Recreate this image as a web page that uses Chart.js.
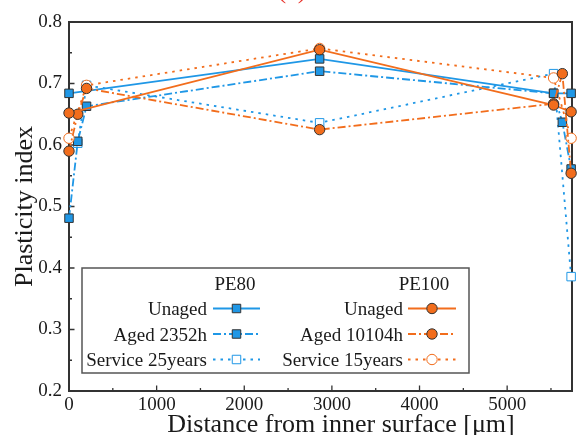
<!DOCTYPE html>
<html>
<head>
<meta charset="utf-8">
<style>
  html, body { margin: 0; padding: 0; background: #fff; }
  #wrap { width: 579px; height: 435px; }
</style>
<script src="https://cdn.jsdelivr.net/npm/chart.js@4.4.0/dist/chart.umd.min.js"></script>
</head>
<body>
<div id="wrap"><canvas id="myChart" width="579" height="435"></canvas></div>
<script>
/*******************************
* DATA
********************************/
var xTickLabels = [0, 1000, 2000, 3000, 4000, 5000];
var yTickLabels = [0.2, 0.3, 0.4, 0.5, 0.6, 0.7, 0.8];
var groupTitles = ['PE80', 'PE100'];
var pe80Labels  = ['Unaged', 'Aged 2352h', 'Service 25years'];
var pe100Labels = ['Unaged', 'Aged 10104h', 'Service 15years'];

// PE80, distance [um] / plasticity index
var pe80UnagedX  = [0, 2860, 5530, 5730];
var pe80UnagedY  = [0.684, 0.740, 0.684, 0.684];
var pe80AgedX    = [0, 100, 200, 2860, 5530, 5630, 5730];
var pe80AgedY    = [0.481, 0.606, 0.663, 0.720, 0.684, 0.637, 0.561];
var pe80ServiceX = [100, 200, 2860, 5530, 5730];
var pe80ServiceY = [0.603, 0.697, 0.636, 0.716, 0.386];

// PE100
var pe100UnagedX  = [0, 2860, 5530, 5730];
var pe100UnagedY  = [0.652, 0.755, 0.665, 0.654];
var pe100AgedX    = [0, 100, 200, 2860, 5530, 5630, 5730];
var pe100AgedY    = [0.590, 0.650, 0.692, 0.625, 0.667, 0.716, 0.554];
var pe100ServiceX = [0, 200, 2860, 5530, 5730];
var pe100ServiceY = [0.611, 0.697, 0.757, 0.709, 0.611];

(function(){
  /*******************************
  * LOAD
  ********************************/
  window.addEventListener('load', function() {
    app.init();
  })

  var blue = '#1f97e6';
  var orange = '#f26d1c';
  var axisColor = '#333';
  var textColor = '#1a1a1a';
  var serif = '"Liberation Serif", "DejaVu Serif", serif';
  var dashDot = [8, 3, 2, 3];
  var dotted = [2.5, 5];

  var app = {

    init: function() {
      app.chart();
    },

    // pair up x / y arrays for a scatter dataset
    points: function(xs, ys) {
      return xs.map(function(x, i){ return { x: x, y: ys[i] }; });
    },

    // major ticks from the label list plus a minor tick halfway between
    withMinor: function(major, half, limit) {
      var out = [];
      major.forEach(function(v){
        out.push({ value: v });
        var m = Math.round((v + half) * 1000) / 1000;
        if (m < limit) out.push({ value: m });
      });
      return out;
    },

    series: function(label, xs, ys, color, dash, style, open, order) {
      return {
        label: label,
        data: app.points(xs, ys),
        showLine: true,
        borderColor: color,
        backgroundColor: color,
        borderWidth: 1.8,
        borderDash: dash,
        pointStyle: style,
        pointRadius: style === 'rect' ? 6 : 5.2,
        pointBackgroundColor: open ? '#fff' : color,
        pointBorderColor: open ? color : axisColor,
        pointBorderWidth: 1,
        order: order,
        clip: false
      };
    },

    /*******************************
    * Extra drawing: inward ticks, frame, legend table, titles
    ********************************/
    decor: {
      id: 'decor',
      beforeDatasetsDraw: function(chart) {
        var ctx = chart.ctx, a = chart.chartArea;
        var xs = chart.scales.x, ys = chart.scales.y;
        ctx.save();
        ctx.strokeStyle = axisColor;
        ctx.lineWidth = 2;
        ctx.beginPath();
        ctx.moveTo(a.left, a.top);
        ctx.lineTo(a.right, a.top);
        ctx.lineTo(a.right, a.bottom);
        ctx.stroke();

        ctx.lineWidth = 1.3;
        ctx.beginPath();
        ys.ticks.forEach(function(t){
          var py = ys.getPixelForValue(t.value);
          var major = t.label !== '';
          ctx.moveTo(a.left, py);
          ctx.lineTo(a.left + (major ? 5.5 : 3), py);
        });
        xs.ticks.forEach(function(t){
          var px = xs.getPixelForValue(t.value);
          var major = t.label !== '';
          ctx.moveTo(px, a.bottom);
          ctx.lineTo(px, a.bottom - (major ? 5.5 : 3));
        });
        ctx.stroke();
        ctx.restore();
      },
      afterDraw: function(chart) {
        var ctx = chart.ctx;
        var sets = chart.data.datasets;
        ctx.save();

        // panel tag, mostly cut off by the top edge
        ctx.fillStyle = '#e8322a';
        ctx.font = '26px ' + serif;
        ctx.textAlign = 'center';
        ctx.textBaseline = 'alphabetic';
        ctx.fillText('(a)', 292, -2);

        // x axis title (sits right of plot centre in the reference)
        ctx.fillStyle = textColor;
        ctx.fillText('Distance from inner surface [\u03bcm]', 341, 432);

        // legend box
        ctx.fillStyle = '#fff';
        ctx.fillRect(82, 268, 387, 105);
        ctx.strokeStyle = '#555';
        ctx.lineWidth = 1.5;
        ctx.strokeRect(82, 268, 387, 105);

        var cols = [
          { labels: pe80Labels,  title: groupTitles[0], first: 0, textRight: 207, x1: 213, x2: 260, mid: 236.5, titleX: 235 },
          { labels: pe100Labels, title: groupTitles[1], first: 3, textRight: 403, x1: 408, x2: 456, mid: 432,   titleX: 424 }
        ];
        var rows = [308.5, 334, 359.5];
        ctx.font = '19px ' + serif;
        cols.forEach(function(c){
          ctx.fillStyle = textColor;
          ctx.textAlign = 'center';
          ctx.fillText(c.title, c.titleX, 290);
          c.labels.forEach(function(lab, i){
            var ds = sets[c.first + i];
            var y = rows[i];
            ctx.fillStyle = textColor;
            ctx.textAlign = 'right';
            ctx.fillText(lab, c.textRight, y + 6.5);

            ctx.strokeStyle = ds.borderColor;
            ctx.lineWidth = ds.borderWidth;
            ctx.setLineDash(ds.borderDash);
            ctx.beginPath();
            ctx.moveTo(c.x1, y);
            ctx.lineTo(c.x2, y);
            ctx.stroke();
            ctx.setLineDash([]);

            ctx.fillStyle = ds.pointBackgroundColor;
            ctx.strokeStyle = ds.pointBorderColor;
            ctx.lineWidth = ds.pointBorderWidth;
            Chart.helpers.drawPoint(ctx, {
              pointStyle: ds.pointStyle,
              radius: ds.pointRadius,
              borderWidth: ds.pointBorderWidth,
              rotation: 0
            }, c.mid, y);
          });
        });
        ctx.restore();
      }
    },

    /*******************************
    * CHART
    ********************************/
    chart: function() {
      var ctx = document.getElementById('myChart');

      new Chart(ctx, {
        type: 'scatter',
        data: {
          datasets: [
            app.series('PE80 Unaged', pe80UnagedX, pe80UnagedY, blue, [], 'rect', false, 1),
            app.series('PE80 Aged 2352h', pe80AgedX, pe80AgedY, blue, dashDot, 'rect', false, 1),
            app.series('PE80 Service 25years', pe80ServiceX, pe80ServiceY, blue, dotted, 'rect', true, 1),
            app.series('PE100 Unaged', pe100UnagedX, pe100UnagedY, orange, [], 'circle', false, 0),
            app.series('PE100 Aged 10104h', pe100AgedX, pe100AgedY, orange, dashDot, 'circle', false, 0),
            app.series('PE100 Service 15years', pe100ServiceX, pe100ServiceY, orange, dotted, 'circle', true, 0)
          ]
        },
        options: {
          responsive: false,
          animation: false,
          devicePixelRatio: 1,
          layout: { padding: { top: 22, right: 1, left: 0, bottom: 0 } },
          plugins: {
            legend: { display: false },
            tooltip: { enabled: false }
          },
          scales: {
            x: {
              type: 'linear',
              min: 0,
              max: 5740,
              afterFit: function(s) { s.height = 44; },
              afterBuildTicks: function(s) {
                s.ticks = app.withMinor(xTickLabels, 500, 5740);
              },
              grid: { display: false, drawTicks: false },
              border: { color: axisColor, width: 2 },
              ticks: {
                autoSkip: false,
                maxRotation: 0,
                padding: 3,
                color: textColor,
                font: { family: serif, size: 19 },
                callback: function(v) {
                  return xTickLabels.indexOf(v) >= 0 ? String(v) : '';
                }
              }
            },
            y: {
              min: 0.2,
              max: 0.8,
              afterFit: function(s) { s.width = 69; },
              afterBuildTicks: function(s) {
                s.ticks = app.withMinor(yTickLabels, 0.05, 0.8);
              },
              grid: { display: false, drawTicks: false },
              border: { color: axisColor, width: 2 },
              ticks: {
                autoSkip: false,
                padding: 7,
                color: textColor,
                font: { family: serif, size: 19 },
                callback: function(v) {
                  var r = Math.round(v * 100) / 100;
                  return yTickLabels.indexOf(r) >= 0 ? r.toFixed(1) : '';
                }
              },
              title: {
                display: true,
                text: 'Plasticity index',
                color: textColor,
                font: { family: serif, size: 26 },
                padding: { top: 10, bottom: 0 }
              }
            }
          }
        },
        plugins: [app.decor]
      });
    }
  }

  /*******************************
  * END
  ********************************/
})()
</script>
</body>
</html>
